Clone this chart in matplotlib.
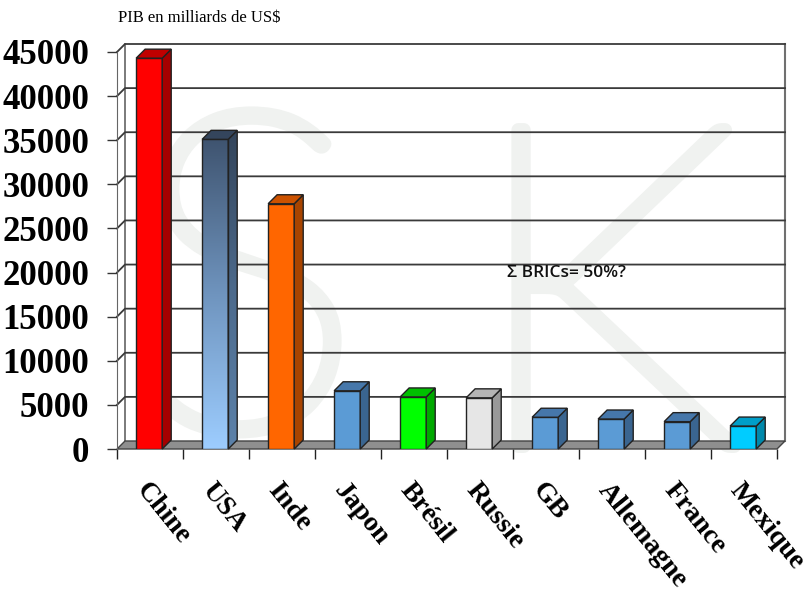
import numpy as np
import matplotlib
matplotlib.use('Agg')
import matplotlib.pyplot as plt
import matplotlib.patheffects as pe
from matplotlib.patches import Polygon
from matplotlib.colors import LinearSegmentedColormap

# PIB 2050 (milliards de US$)
pays = ['Chine', 'USA', 'Inde', 'Japon', 'Brésil', 'Russie', 'GB', 'Allemagne', 'France', 'Mexique']
pib = [44300, 35100, 27800, 6600, 5900, 5800, 3600, 3400, 3100, 2600]
yticks = list(range(0, 45001, 5000))

# couleurs face avant / cote / dessus (USA en degrade)
c_front = ['#ff0000', '#5a78a0', '#ff6600', '#5b9bd5', '#00ff00', '#e6e6e6', '#5b9bd5', '#5b9bd5', '#5b9bd5', '#00ccff']
c_side = ['#a50000', '#3f5570', '#a84400', '#3a6590', '#00a800', '#999999', '#3a6590', '#3a6590', '#3a6590', '#0089ab']
c_top = ['#c00000', '#34455c', '#cc5200', '#4677aa', '#00c000', '#b4b4b4', '#4677aa', '#4677aa', '#4677aa', '#009ec8']

fig = plt.figure(figsize=(8.12, 5.96), dpi=100)
fig.patch.set_facecolor('white')

# filigrane en arriere-plan
wm = '#f0f2f0'
thick = [pe.withStroke(linewidth=10, foreground=wm)]
fig.text(128/812, (596-428)/596, 'S', fontsize=320, family='Lato', weight='light', color=wm,
         zorder=-1, va='baseline', path_effects=thick)
fig.text(466/812, (596-446)/596, 'K', fontsize=325, family='Lato', weight='light', color=wm,
         zorder=-1, va='baseline', path_effects=thick)

ax = fig.add_axes([117/812, 147/596, 660/812, 397/596])
ax.set_xlim(0, 10)
ax.set_ylim(0, 45000)
ax.patch.set_visible(False)
for s in ['top', 'right', 'bottom']:
    ax.spines[s].set_visible(False)
ax.spines['left'].set_color('#666666')


def depth(px):
    x0, y0 = ax.transData.transform((0, 0))
    return ax.transData.inverted().transform((x0 + px, y0 + px))


wdx, wdy = depth(8)
bdx, bdy = depth(9)
ymax = 45000

# murs et quadrillage
ax.plot([wdx, wdx], [wdy, ymax + wdy], color='#707070', lw=1.3, clip_on=False, zorder=1)
ax.plot([10 + wdx, 10 + wdx], [wdy, ymax + wdy], color='#707070', lw=1.5, clip_on=False, zorder=1)
for v in yticks[1:]:
    ax.plot([0, wdx, 10 + wdx], [v, v + wdy, v + wdy], color='#3a3a3a', lw=1.3, clip_on=False, zorder=1)

# sol
ax.add_patch(Polygon([(0, 0), (10, 0), (10 + wdx, wdy), (wdx, wdy)], closed=True,
                     fc='#8f8f8f', ec='#444444', lw=1, zorder=2, clip_on=False))

x = np.arange(len(pays))
x0s = x + 0.29
w = 0.395
bars = ax.bar(x0s, pib, width=w, align='edge', color=c_front, edgecolor='#222222', lw=1, zorder=4)

for i, (xa, v) in enumerate(zip(x0s, pib)):
    xb = xa + w
    side = Polygon([(xb, 0), (xb + bdx, bdy), (xb + bdx, v + bdy), (xb, v)], closed=True,
                   fc=c_side[i], ec='#222222', lw=1, zorder=4, clip_on=False)
    top = Polygon([(xa, v), (xb, v), (xb + bdx, v + bdy), (xa + bdx, v + bdy)], closed=True,
                  fc=c_top[i], ec='#222222', lw=1, zorder=4, clip_on=False)
    ax.add_patch(side)
    ax.add_patch(top)
    if pays[i] == 'USA':
        grad = np.linspace(0, 1, 256).reshape(-1, 1)
        cm_f = LinearSegmentedColormap.from_list('f', ['#3f5470', '#6f94be', '#9dcdff'])
        cm_s = LinearSegmentedColormap.from_list('s', ['#33445a', '#4c6a8c', '#5c82aa'])
        bars[i].set_facecolor('none')
        im = ax.imshow(grad, extent=(xa, xb, 0, v), origin='upper', aspect='auto', cmap=cm_f, zorder=3.9)
        im.set_clip_path(bars[i])
        side.set_facecolor('none')
        im2 = ax.imshow(grad, extent=(xb, xb + bdx, 0, v + bdy), origin='upper', aspect='auto', cmap=cm_s, zorder=3.9)
        im2.set_clip_path(side)

ax.set_xlim(0, 10)
ax.set_ylim(0, 45000)

ax.set_yticks(yticks)
ax.set_yticklabels([str(v) for v in yticks], fontfamily='Liberation Serif', fontweight='bold', fontsize=25)
ax.tick_params(axis='y', length=7, width=1, color='#333333', pad=13)
ax.set_xticks(range(11))
ax.set_xticklabels([])
ax.tick_params(axis='x', length=7, width=1, color='#222222')

for i, p in enumerate(pays):
    ax.text(i + 0.5, -0.073, p, transform=ax.get_xaxis_transform(), rotation=-51,
            rotation_mode='anchor', ha='left', va='top', fontsize=20,
            family='Liberation Serif', weight='bold')

ax.text(5.91, 20000, 'Σ BRICs= 50%?', family='Open Sans', weight='semibold', fontsize=12.5,
        va='center', ha='left', color='#111111', zorder=5)

fig.text(118/812, 1 - 18/596, 'PIB en milliards de US$', family='Liberation Serif',
         fontsize=12, va='center', ha='left')

fig.savefig('out.png', dpi=100)
